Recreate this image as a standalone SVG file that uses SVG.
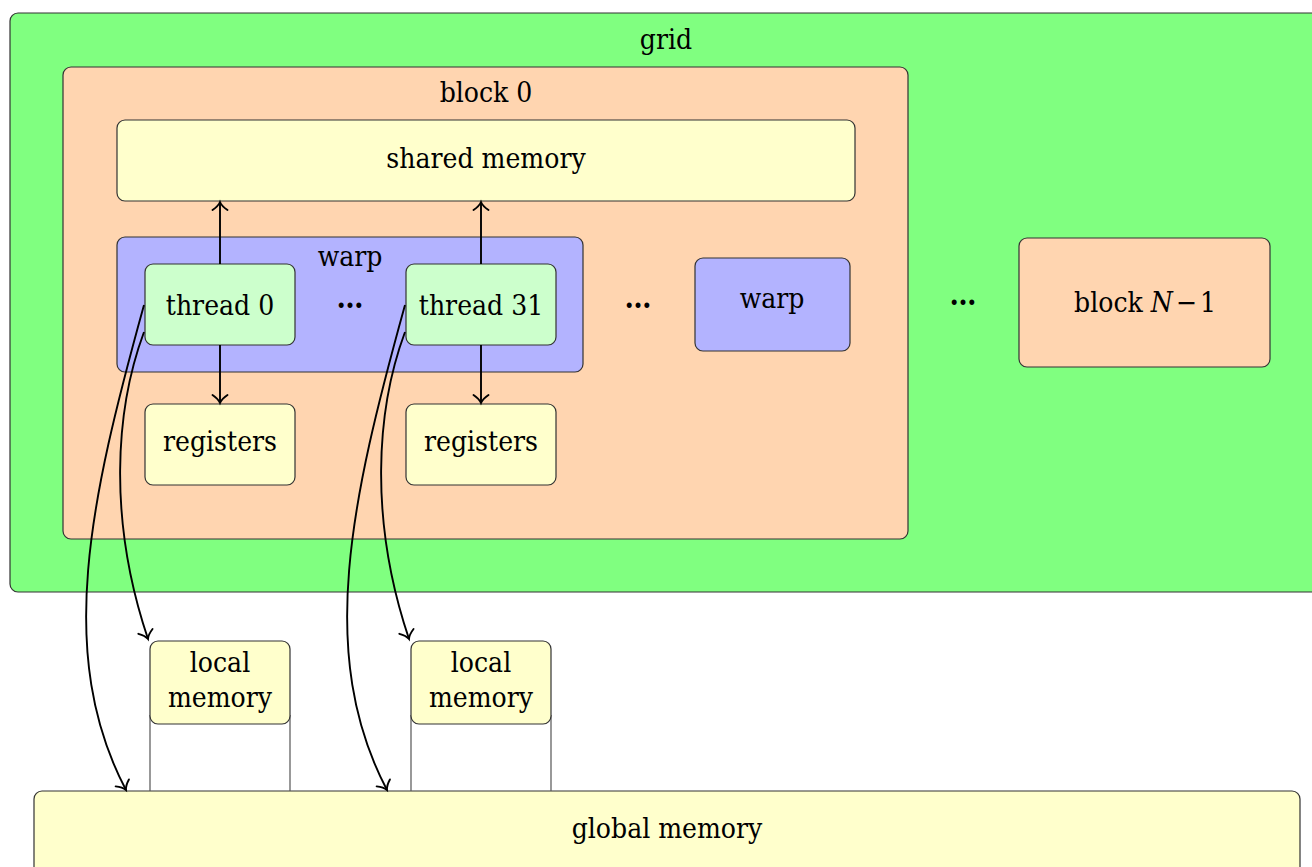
<svg xmlns="http://www.w3.org/2000/svg" width="1312" height="867" viewBox="0 0 1312 867">
  <style>
    .box { stroke: #333; stroke-width: 1.2; }
    .grid { fill: #80ff80; }
    .block { fill: #ffd5b0; }
    .mem { fill: #ffffcc; }
    .warp { fill: #b3b3ff; }
    .thread { fill: #ccffcc; }
    text { font-family: "DejaVu Serif Condensed", "DejaVu Serif", "Liberation Serif", serif; font-stretch: condensed; font-size: 28px; fill: #000; text-anchor: middle; }
    .dots { font-size: 30px; font-weight: bold; }
    .edge { fill: none; stroke: #000; stroke-width: 1.9; }
    .side { fill: none; stroke: #555; stroke-width: 1.2; }
  </style>
  <defs>
    <marker id="to" markerUnits="userSpaceOnUse" markerWidth="20" markerHeight="20" viewBox="-10 -10 20 20" refX="0" refY="0" orient="auto">
      <path d="M -8 -7.5 C -5 -3 -2 -0.8 0 0 C -2 0.8 -5 3 -8 7.5" fill="none" stroke="#000" stroke-width="1.9" stroke-linecap="round"/>
    </marker>
  </defs>

  <g id="grid">
    <rect class="box grid" x="10" y="13" width="1320" height="579" rx="8"/>
    <text x="666" y="49">grid</text>
  </g>

  <g id="block0">
    <rect class="box block" x="63" y="67" width="845" height="472" rx="8"/>
    <text x="486" y="102">block 0</text>
  </g>

  <g id="shared-memory">
    <rect class="box mem" x="117" y="120" width="738" height="81" rx="8"/>
    <text x="486" y="168">shared memory</text>
  </g>

  <g id="warp0">
    <rect class="box warp" x="117" y="237" width="466" height="135" rx="8"/>
    <text x="350" y="266">warp</text>
    <text class="dots" x="350" y="308">…</text>
  </g>

  <g id="thread0">
    <rect class="box thread" x="145" y="264" width="150" height="81" rx="8"/>
    <text x="220" y="315">thread 0</text>
  </g>

  <g id="thread31">
    <rect class="box thread" x="406" y="264" width="150" height="81" rx="8"/>
    <text x="481" y="315">thread 31</text>
  </g>

  <g id="warp-dots">
    <text class="dots" x="638" y="308">…</text>
  </g>

  <g id="warp1">
    <rect class="box warp" x="695" y="258" width="155" height="93" rx="8"/>
    <text x="772" y="308">warp</text>
  </g>

  <g id="block-dots">
    <text class="dots" x="963" y="305">…</text>
  </g>

  <g id="blockN">
    <rect class="box block" x="1019" y="238" width="251" height="129" rx="8"/>
    <text x="1145" y="312">block <tspan font-style="italic">N</tspan><tspan dx="3">−</tspan><tspan dx="3">1</tspan></text>
  </g>

  <g id="registers0">
    <rect class="box mem" x="145" y="404" width="150" height="81" rx="8"/>
    <text x="220" y="451">registers</text>
  </g>

  <g id="registers31">
    <rect class="box mem" x="406" y="404" width="150" height="81" rx="8"/>
    <text x="481" y="451">registers</text>
  </g>

  <g id="global-memory">
    <rect class="box mem" x="34" y="791" width="1266" height="90" rx="8"/>
    <text x="667" y="838">global memory</text>
  </g>

  <g id="local-memory0">
    <path class="side" d="M 150 715 V 791 M 290 715 V 791"/>
    <rect class="box mem" x="150" y="641" width="140" height="83" rx="8"/>
    <text x="220" y="672">local</text>
    <text x="220" y="707">memory</text>
  </g>

  <g id="local-memory31">
    <path class="side" d="M 411 715 V 791 M 551 715 V 791"/>
    <rect class="box mem" x="411" y="641" width="140" height="83" rx="8"/>
    <text x="481" y="672">local</text>
    <text x="481" y="707">memory</text>
  </g>

  <g id="connectors">
    <!-- thread 0 -->
    <path class="edge" d="M 220 264 V 202" marker-end="url(#to)"/>
    <path class="edge" d="M 220 345 V 403" marker-end="url(#to)"/>
    <path class="edge" d="M 144 305 C 90 500 55 655 126 790" marker-end="url(#to)"/>
    <path class="edge" d="M 144 332 C 115 410 108 520 148 639" marker-end="url(#to)"/>
    <!-- thread 31 -->
    <path class="edge" d="M 481 264 V 202" marker-end="url(#to)"/>
    <path class="edge" d="M 481 345 V 403" marker-end="url(#to)"/>
    <path class="edge" d="M 405 305 C 351 500 316 655 387 790" marker-end="url(#to)"/>
    <path class="edge" d="M 405 332 C 376 410 369 520 409 639" marker-end="url(#to)"/>
  </g>
</svg>
